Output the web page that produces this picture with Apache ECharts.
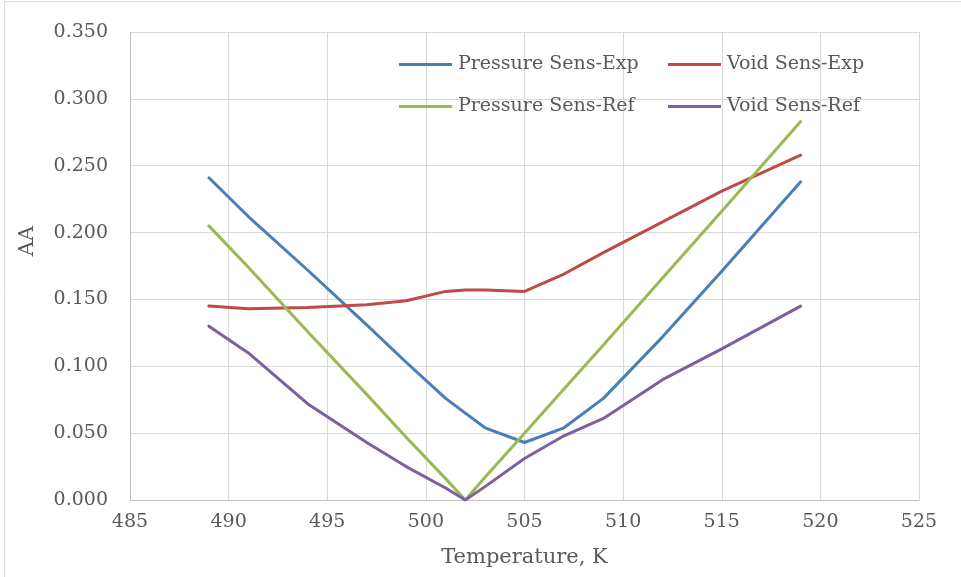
<!DOCTYPE html>
<html>
<head>
<meta charset="utf-8">
<script src="https://cdn.jsdelivr.net/npm/echarts@6/dist/echarts.min.js"></script>
<style>
  html, body { margin: 0; padding: 0; background: #fff; }
  #chart { width: 961px; height: 577px; }
</style>
</head>
<body>
<div id="chart"></div>
<script>
// temperatures (K)
const temps = [489, 491, 494, 497, 499, 501, 502, 503, 505, 507, 509, 512, 515, 519];

const pressureExp = [0.241, 0.212, 0.172, 0.131, 0.103, 0.076, 0.065, 0.054, 0.043, 0.054, 0.076, 0.122, 0.171, 0.238];
const voidExp     = [0.145, 0.143, 0.144, 0.146, 0.149, 0.156, 0.157, 0.157, 0.156, 0.169, 0.185, 0.208, 0.231, 0.258];
const pressureRef = [0.205, 0.174, 0.126, 0.079, 0.047, 0.016, 0.000, 0.017, 0.050, 0.083, 0.116, 0.166, 0.216, 0.283];
const voidRef     = [0.130, 0.110, 0.072, 0.043, 0.025, 0.009, 0.000, 0.010, 0.031, 0.048, 0.061, 0.090, 0.113, 0.145];

const seriesNames = ["Pressure Sens-Exp", "Void Sens-Exp", "Pressure Sens-Ref", "Void Sens-Ref"];
const seriesColors = ["#4a7ebb", "#be4b48", "#98b954", "#7d60a0"];
const seriesData = [pressureExp, voidExp, pressureRef, voidRef];

const font = "'DejaVu Serif', serif";
const textColor = "#595959";

const chart = echarts.init(document.getElementById("chart"));

// 2x2 legend layout
const legendPos = [
  { left: 399, top: 55 },
  { left: 668, top: 55 },
  { left: 399, top: 97 },
  { left: 668, top: 97 },
];

const option = {
  animation: false,
  backgroundColor: "#fff",
  grid: { left: 130, right: 42, top: 32, bottom: 77 },
  legend: seriesNames.map((name, i) => ({
    data: [name],
    left: legendPos[i].left,
    top: legendPos[i].top,
    padding: 0,
    icon: "rect",
    itemWidth: 53,
    itemHeight: 3,
    itemGap: 0,
    textStyle: { fontFamily: font, fontSize: 19, color: textColor, padding: [0, 0, 0, 1] },
  })),
  xAxis: {
    type: "value",
    min: 485,
    max: 525,
    interval: 5,
    name: "Temperature, K",
    nameLocation: "middle",
    nameGap: 47,
    nameTextStyle: { fontFamily: font, fontSize: 21, color: textColor },
    axisLine: { show: true, lineStyle: { color: "#bfbfbf", width: 1 } },
    axisTick: { show: false },
    axisLabel: { fontFamily: font, fontSize: 19, color: textColor, margin: 13 },
    splitLine: { show: true, lineStyle: { color: "#d9d9d9", width: 1 } },
  },
  yAxis: {
    type: "value",
    min: 0,
    max: 0.35,
    interval: 0.05,
    axisLine: { show: true, lineStyle: { color: "#bfbfbf", width: 1 } },
    axisTick: { show: false },
    axisLabel: {
      fontFamily: font, fontSize: 19, color: textColor, margin: 22,
      formatter: (v) => v.toFixed(3),
    },
    splitLine: { show: true, lineStyle: { color: "#d9d9d9", width: 1 } },
  },
  graphic: [
    {
      type: "rect",
      shape: { x: 4.5, y: 1.5, width: 1000, height: 600 },
      style: { fill: "none", stroke: "#d9d9d9", lineWidth: 1 },
      silent: true,
    },
    {
      type: "text",
      x: 28,
      y: 241,
      rotation: Math.PI / 2,
      style: {
        text: "AA",
        font: "21px " + font,
        fill: textColor,
        align: "center",
        verticalAlign: "middle",
      },
    },
  ],
  series: seriesNames.map((name, i) => ({
    name: name,
    type: "line",
    data: temps.map((t, j) => [t, seriesData[i][j]]),
    showSymbol: false,
    symbol: "none",
    smooth: false,
    lineStyle: { color: seriesColors[i], width: 3, cap: "round", join: "round" },
    itemStyle: { color: seriesColors[i] },
  })),
};

chart.setOption(option);
</script>
</body>
</html>
